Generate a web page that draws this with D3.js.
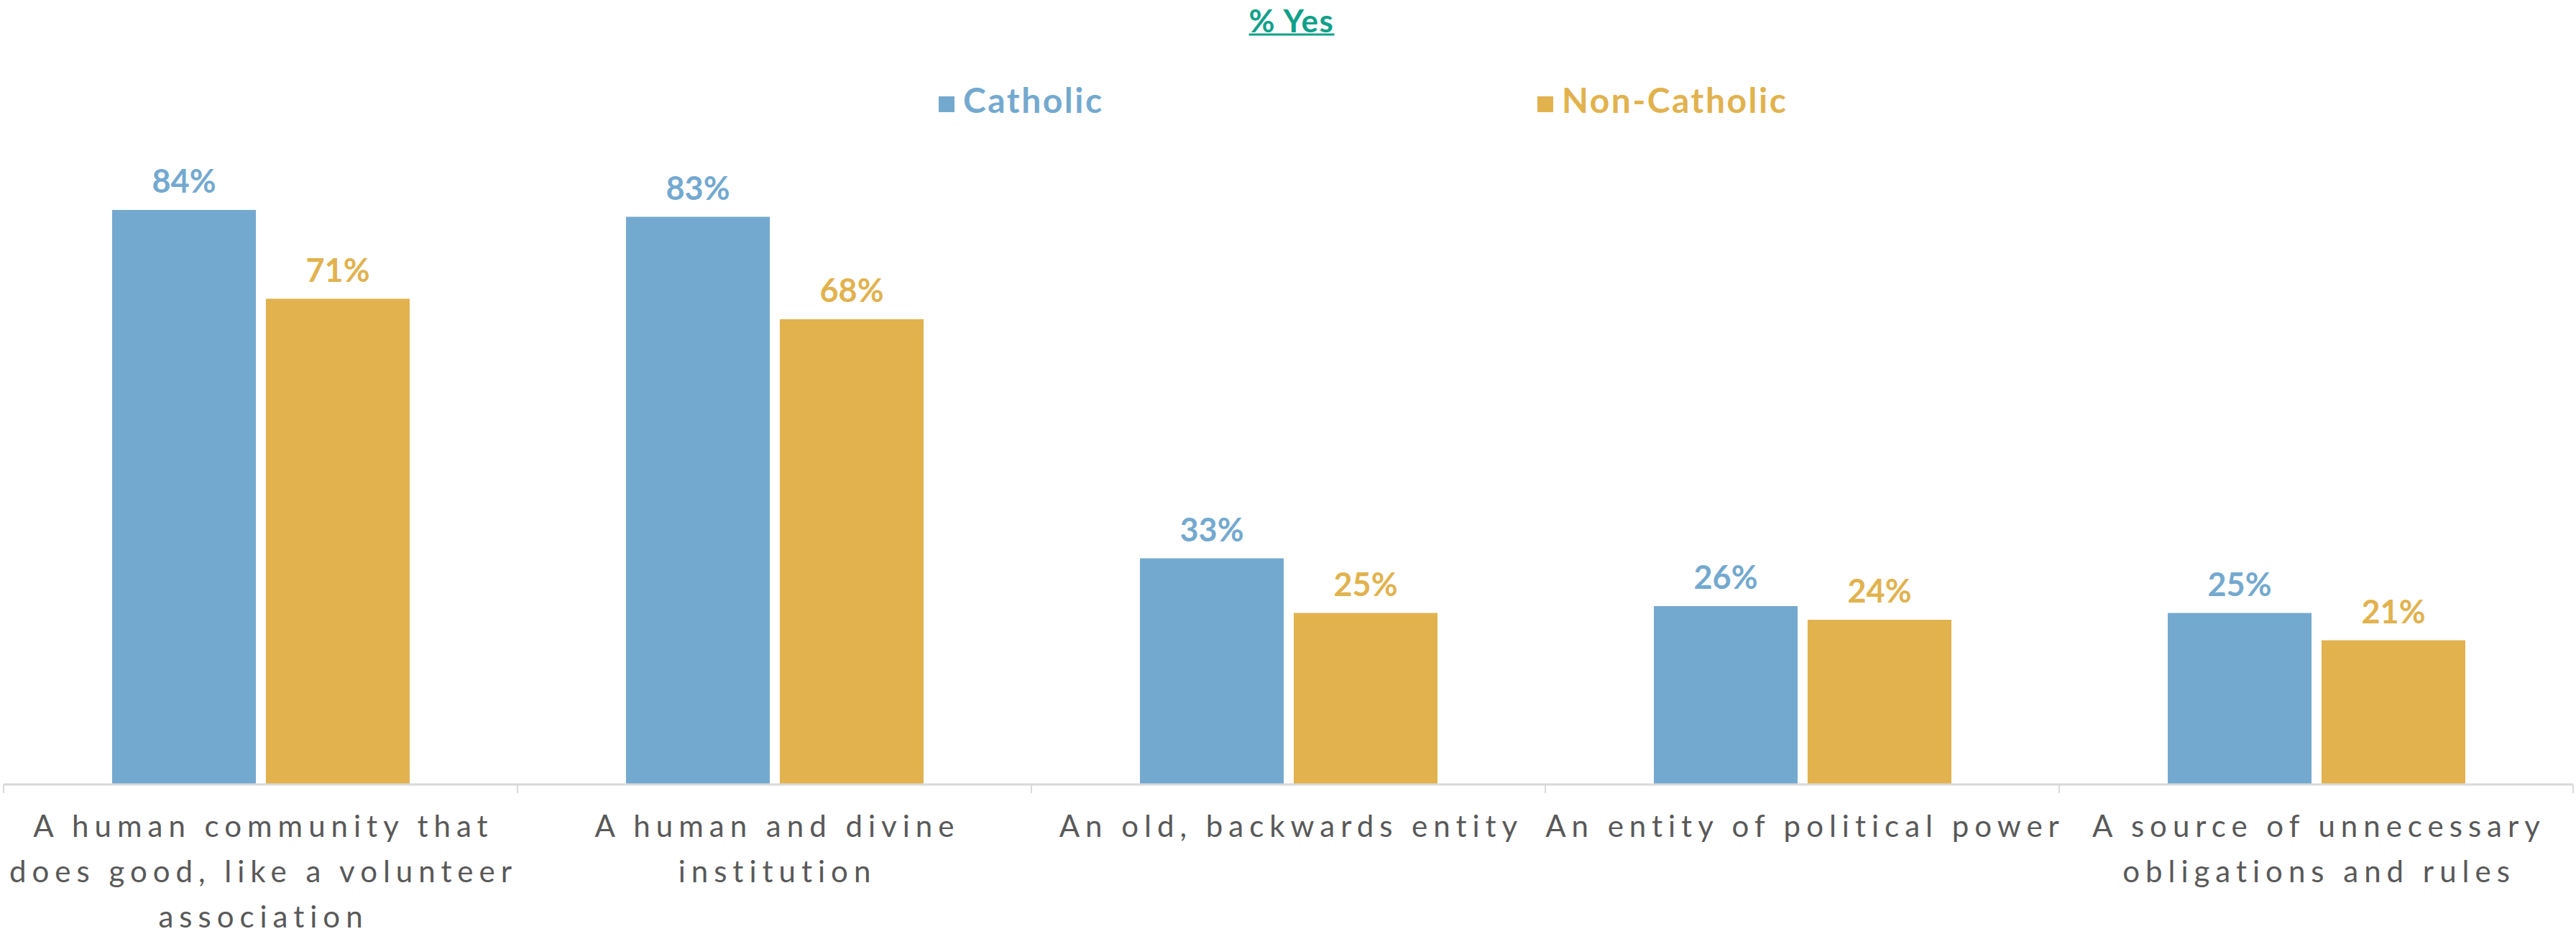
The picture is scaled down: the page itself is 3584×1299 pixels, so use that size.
<!DOCTYPE html>
<html>
<head>
<meta charset="utf-8">
<script src="https://cdn.jsdelivr.net/npm/d3@7"></script>
<style>
  html, body { margin: 0; padding: 0; background: #ffffff; }
  svg { display: block; }
</style>
</head>
<body>
<svg id="chart" width="3584" height="1299"></svg>
<script>
// ---- data ----
const categories = [
  "A human community that does good, like a volunteer association",
  "A human and divine institution",
  "An old, backwards entity",
  "An entity of political power",
  "A source of unnecessary obligations and rules"
];
const categoryLines = [
  ["A human community that", "does good, like a volunteer", "association"],
  ["A human and divine", "institution"],
  ["An old, backwards entity"],
  ["An entity of political power"],
  ["A source of unnecessary", "obligations and rules"]
];
const seriesNames = ["Catholic", "Non-Catholic"];
const catholic = [84, 83, 33, 26, 25];
const nonCatholic = [71, 68, 25, 24, 21];
const titleText = "% Yes";

// ---- styles ----
const colors = { "Catholic": "#74a9cf", "Non-Catholic": "#e1b24e" };
const titleColor = "#10a08a";
const labelColor = "#595959";
const axisColor = "#d9d9d9";

const svg = d3.select("#chart");

const x0 = d3.scaleBand().domain(categories).range([5, 3580]).padding(0);
const x1 = d3.scaleBand().domain(seriesNames).range([151, 565]).paddingInner(0.065);
const y = d3.scaleLinear().domain([0, 100]).range([1090, 140]);

const rows = categories.map((c, i) => ({ cat: c, i, vals: [
  { s: "Catholic", v: catholic[i] },
  { s: "Non-Catholic", v: nonCatholic[i] }
]}));

// bars
const g = svg.append("g");
const grp = g.selectAll("g.grp").data(rows).join("g")
  .attr("class", "grp")
  .attr("transform", d => `translate(${x0(d.cat)},0)`);

grp.selectAll("rect").data(d => d.vals).join("rect")
  .attr("x", d => x1(d.s))
  .attr("y", d => y(d.v))
  .attr("width", x1.bandwidth())
  .attr("height", d => y(0) - y(d.v))
  .attr("fill", d => colors[d.s]);

grp.selectAll("text.val").data(d => d.vals).join("text")
  .attr("class", "val")
  .attr("x", d => x1(d.s) + x1.bandwidth() / 2)
  .attr("y", d => y(d.v) - 24)
  .attr("text-anchor", "middle")
  .attr("font-family", "Lato, 'Open Sans', sans-serif")
  .attr("font-weight", 700)
  .attr("font-size", 45)
  .attr("fill", d => colors[d.s])
  .text(d => d.v + "%");

// axis
const axis = d3.axisBottom(x0).tickSize(12).tickFormat("").tickSizeOuter(12);
const axG = svg.append("g").attr("transform", `translate(0,${y(0) + 1})`).call(axis);
axG.select(".domain").attr("stroke", axisColor).attr("stroke-width", 3)
  .attr("d", `M5,0H3580`);
axG.selectAll(".tick").remove();
// category boundary ticks
const bounds = categories.map(c => x0(c)).concat([x0.range()[1]]);
axG.selectAll("line.bnd").data(bounds).join("line")
  .attr("class", "bnd")
  .attr("x1", d => d).attr("x2", d => d)
  .attr("y1", 0).attr("y2", 12)
  .attr("stroke", axisColor).attr("stroke-width", 2);

// category labels
const lab = svg.append("g");
lab.selectAll("text").data(rows).join("text")
  .attr("x", d => x0(d.cat) + x0.bandwidth() / 2)
  .attr("y", 1164)
  .attr("text-anchor", "middle")
  .attr("font-family", "Lato, 'Noto Sans', sans-serif")
  .attr("font-size", 42)
  .attr("letter-spacing", 8)
  .attr("fill", labelColor)
  .each(function(d) {
    const t = d3.select(this);
    categoryLines[d.i].forEach((ln, k) => {
      t.append("tspan")
        .attr("x", x0(d.cat) + x0.bandwidth() / 2 + 4)
        .attr("y", 1164 + k * 63)
        .text(ln);
    });
  });

// title
const title = svg.append("text")
  .attr("x", 1797).attr("y", 45)
  .attr("text-anchor", "middle")
  .attr("font-family", "Lato, 'Open Sans', sans-serif")
  .attr("font-weight", 700)
  .attr("font-size", 44)
  .attr("letter-spacing", 1.5)
  .attr("fill", titleColor)
  .text(titleText);
const tb = title.node().getBBox();
svg.append("line")
  .attr("x1", tb.x).attr("x2", tb.x + tb.width)
  .attr("y1", 48).attr("y2", 48)
  .attr("stroke", titleColor).attr("stroke-width", 3);

// legend
const legendX = [1306, 2139];
const leg = svg.append("g");
seriesNames.forEach((s, i) => {
  leg.append("rect")
    .attr("x", legendX[i]).attr("y", 134)
    .attr("width", 22).attr("height", 22)
    .attr("fill", colors[s]);
  leg.append("text")
    .attr("x", legendX[i] + 34).attr("y", 157)
    .attr("font-family", "Lato, 'Open Sans', sans-serif")
    .attr("font-weight", 700)
    .attr("font-size", 48)
    .attr("letter-spacing", 2.5)
    .attr("fill", colors[s])
    .text(s);
});
</script>
</body>
</html>
